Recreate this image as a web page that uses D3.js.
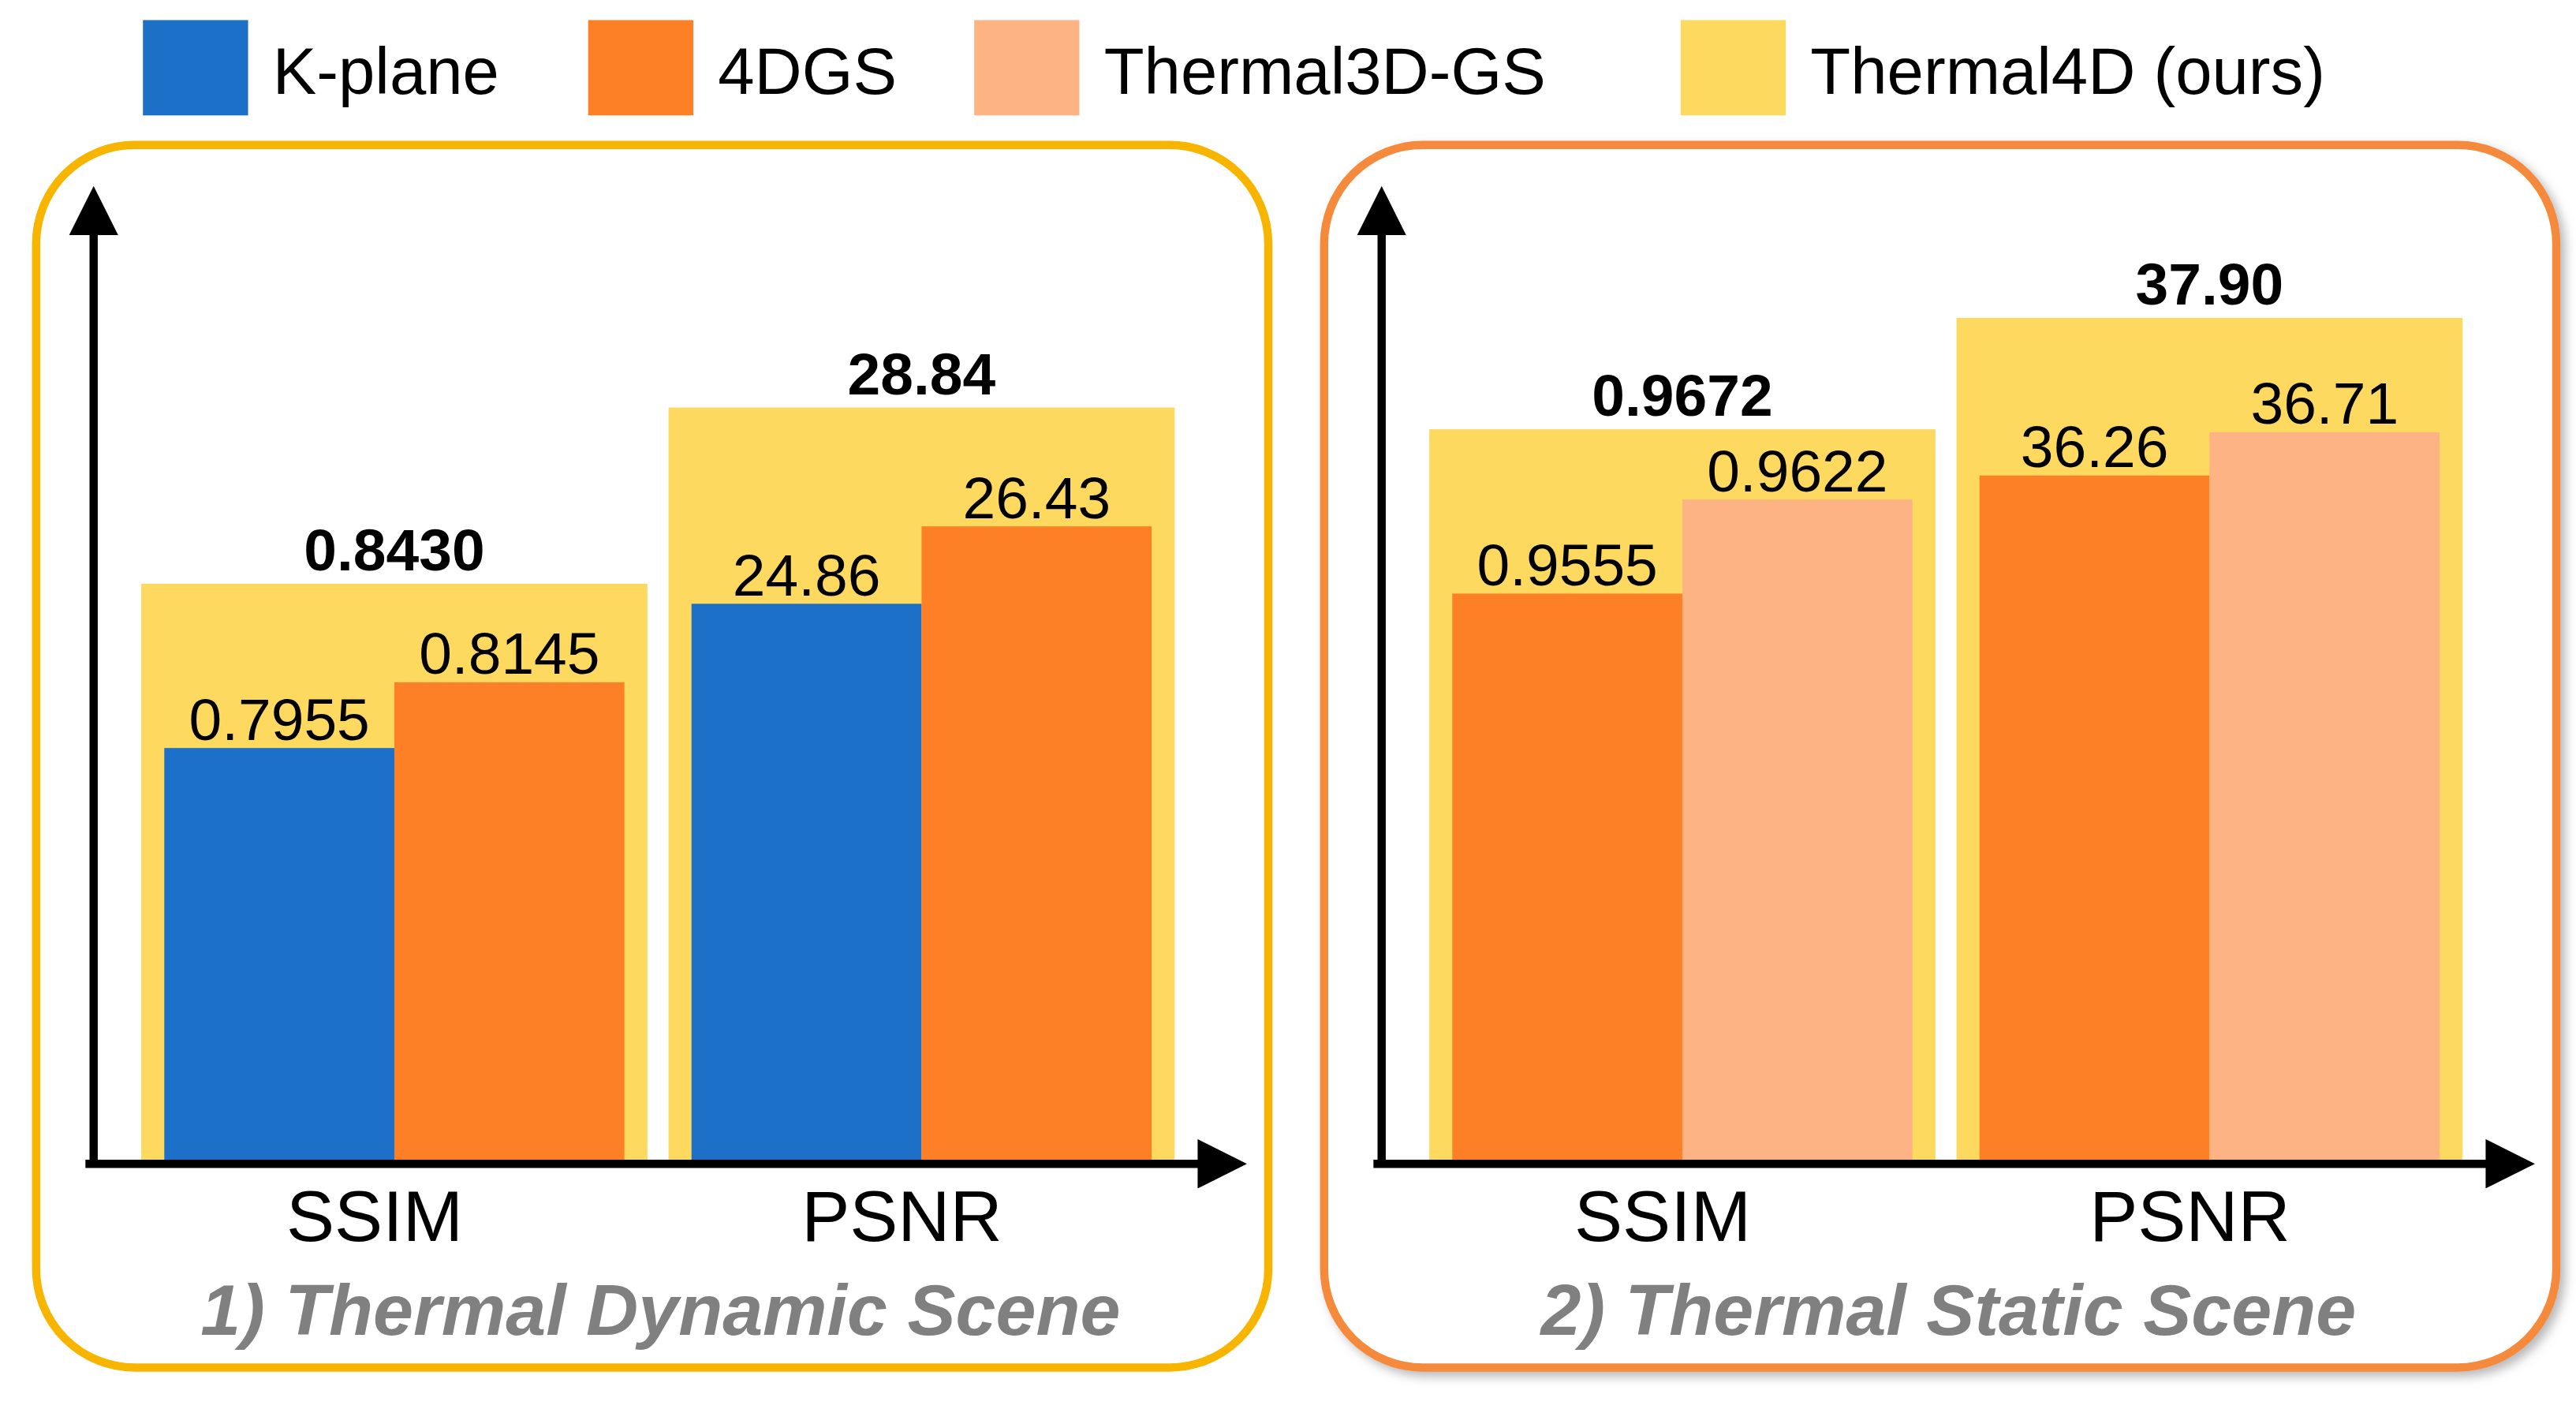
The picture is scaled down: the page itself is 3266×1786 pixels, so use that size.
<!DOCTYPE html>
<html><head><meta charset="utf-8">
<script src="https://cdn.jsdelivr.net/npm/d3@7"></script>
<style>body{margin:0;background:#fff}</style></head>
<body><div id="chart"></div>
<script>
const W = 3266, H = 1786;
const methods = ["K-plane", "4DGS", "Thermal3D-GS", "Thermal4D (ours)"];
const colors = ["#1c70c8", "#fd7f26", "#fdb383", "#fdd960"];
const metrics = ["SSIM", "PSNR"];
const panelTitles = ["1) Thermal Dynamic Scene", "2) Thermal Static Scene"];
// per panel: [method index, SSIM, PSNR]
const dynamicRows = [[0, 0.7955, 24.86], [1, 0.8145, 26.43]];
const dynamicOurs = [0.8430, 28.84];
const staticRows = [[1, 0.9555, 36.26], [2, 0.9622, 36.71]];
const staticOurs = [0.9672, 37.90];
const fmt = [d3.format(".4f"), d3.format(".2f")];

const svg = d3.select("#chart").append("svg")
  .attr("width", W).attr("height", H)
  .attr("viewBox", [0, 0, 1568, 857])
  .style("font-family", "Liberation Sans, Arial, sans-serif");

svg.append("defs").html(`
 <marker id="arr" viewBox="0 0 10 10" refX="5" refY="5" markerWidth="6" markerHeight="6" orient="auto-start-reverse" markerUnits="strokeWidth">
 <path d="M0,0L10,5L0,10z" fill="#000"/></marker>
 <filter id="sh" x="-5%" y="-5%" width="110%" height="110%"><feDropShadow dx="3" dy="3" stdDeviation="3" flood-color="#888" flood-opacity="0.6"/></filter>`);

// legend
const legX = [87, 358, 593, 1023];
methods.forEach((m, i) => {
  svg.append("rect").attr("x", legX[i]).attr("y", 12).attr("width", 64).attr("height", 58).attr("fill", colors[i]);
  svg.append("text").attr("x", legX[i] + 79).attr("y", 57).attr("font-size", 40).text(m);
});

const panels = [
  {x0: 22, border: "#f7b500", rows: dynamicRows, ours: dynamicOurs, domains: [[0.6753, 1], [13.5, 40]], shadow: false},
  {x0: 806, border: "#f58a3c", rows: staticRows, ours: staticOurs, domains: [[0.9149, 1], [29.1, 40]], shadow: true}
];
const base = 708;

panels.forEach((p, pi) => {
  const g = svg.append("g").attr("transform", `translate(${p.x0},0)`);
  g.append("rect").attr("x", 0).attr("y", 88).attr("width", 750).attr("height", 744)
    .attr("rx", 60).attr("fill", "#fff").attr("stroke", p.border).attr("stroke-width", 5)
    .attr("filter", p.shadow ? "url(#sh)" : null);

  const x = d3.scaleBand().domain(metrics).range([64, 693]).paddingInner(0.04);
  metrics.forEach((m, mi) => {
    const unit = mi === 0 ? 2105 : 30;
    const y = d3.scaleLinear().domain(p.domains[mi]).range([base, base - (p.domains[mi][1] - p.domains[mi][0]) * (pi === 0 ? (mi === 0 ? 2105 : 30) : (mi === 0 ? 8547 : 58.5))]);
    const gx = x(m), bw = x.bandwidth();
    g.append("rect").attr("x", gx).attr("y", y(p.ours[mi])).attr("width", bw)
      .attr("height", base - y(p.ours[mi])).attr("fill", colors[3]);
    g.append("text").attr("x", gx + bw / 2).attr("y", y(p.ours[mi]) - 8).attr("text-anchor", "middle")
      .attr("font-size", 36).attr("font-weight", "bold").text(fmt[mi](p.ours[mi]));
    const inner = d3.scaleBand().domain(d3.range(p.rows.length)).range([gx + 14, gx + bw - 14]);
    p.rows.forEach((r, ri) => {
      const v = r[mi + 1];
      g.append("rect").attr("x", inner(ri)).attr("y", y(v)).attr("width", inner.bandwidth())
        .attr("height", base - y(v)).attr("fill", colors[r[0]]);
      g.append("text").attr("x", inner(ri) + inner.bandwidth() / 2).attr("y", y(v) - 5)
        .attr("text-anchor", "middle").attr("font-size", 36).text(fmt[mi](v));
    });
    g.append("text").attr("x", gx + bw / 2 - 12).attr("y", 755).attr("text-anchor", "middle")
      .attr("font-size", 44).text(m);
  });
  // axes
  g.append("line").attr("x1", 35).attr("y1", base).attr("x2", 35).attr("y2", 128)
    .attr("stroke", "#000").attr("stroke-width", 5).attr("marker-end", "url(#arr)");
  g.append("line").attr("x1", 30).attr("y1", base).attr("x2", 722).attr("y2", base)
    .attr("stroke", "#000").attr("stroke-width", 5).attr("marker-end", "url(#arr)");
  g.append("text").attr("x", 380).attr("y", 812).attr("text-anchor", "middle")
    .attr("font-size", 44).attr("font-weight", "bold").attr("font-style", "italic")
    .attr("fill", "#808080").text(panelTitles[pi]);
});
</script></body></html>
